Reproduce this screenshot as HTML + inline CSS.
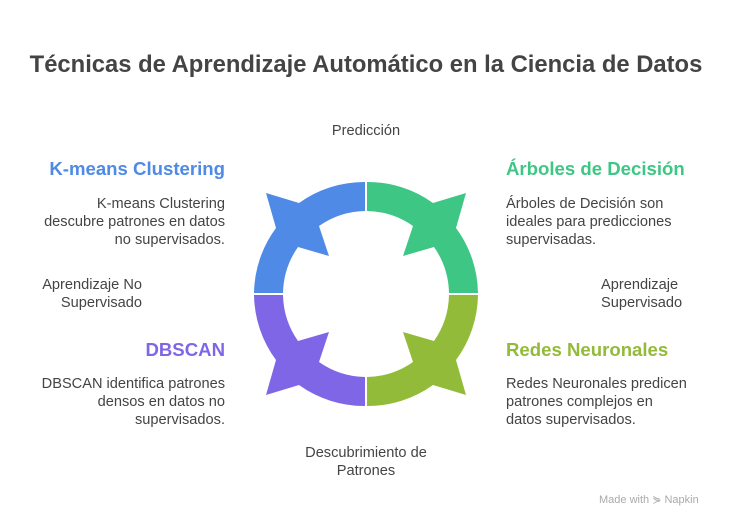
<!DOCTYPE html>
<html><head><meta charset="utf-8"><style>
body{margin:0;width:732px;height:528px;background:#fff;font-family:"Liberation Sans",sans-serif;position:relative;overflow:hidden}
.t{position:absolute;white-space:nowrap}
.h{font-weight:bold;font-size:18.6px}
.p{font-size:14.6px;color:#444;line-height:18px}
.r{text-align:right}
</style></head><body>
<div class="t" style="left:0;width:732px;top:51px;text-align:center;font-weight:bold;font-size:23.8px;color:#444">Técnicas de Aprendizaje Automático en la Ciencia de Datos</div>
<div class="t p" style="left:0;width:732px;text-align:center;top:122px">Predicción</div>
<div class="t p" style="left:0;width:732px;text-align:center;top:444px">Descubrimiento de<br>Patrones</div>
<div class="t h r" style="right:507px;top:158px;color:#4e8ae6">K-means Clustering</div>
<div class="t p r" style="right:507px;top:195px">K-means Clustering<br>descubre patrones en datos<br>no supervisados.</div>
<div class="t p r" style="right:590px;top:276px">Aprendizaje No<br>Supervisado</div>
<div class="t h r" style="right:507px;top:339px;color:#7e66e6">DBSCAN</div>
<div class="t p r" style="right:507px;top:375px">DBSCAN identifica patrones<br>densos en datos no<br>supervisados.</div>
<div class="t h" style="left:506px;top:158px;color:#3ec685">Árboles de Decisión</div>
<div class="t p" style="left:506px;top:195px">Árboles de Decisión son<br>ideales para predicciones<br>supervisadas.</div>
<div class="t p" style="left:601px;top:276px">Aprendizaje<br>Supervisado</div>
<div class="t h" style="left:506px;top:339px;color:#93bb3a">Redes Neuronales</div>
<div class="t p" style="left:506px;top:375px">Redes Neuronales predicen<br>patrones complejos en<br>datos supervisados.</div>
<div class="t" style="left:599px;top:493px;font-size:11px;color:#aaa">Made with ⋟ Napkin</div>
<svg width="732" height="528" style="position:absolute;left:0;top:0">
<defs><path id="q" d="M-1,-112 A112,112 0 0 0 -67,-91 L-100,-101 L-90,-66 A112,112 0 0 0 -112,-1 L-83,-1 A83,83 0 0 1 -68,-47 L-37,-38 L-47,-68 A83,83 0 0 1 -1,-83 Z"/></defs>
<g transform="translate(366,294)">
<use href="#q" fill="#4e8ae6"/>
<use href="#q" fill="#3ec685" transform="scale(-1,1)"/>
<use href="#q" fill="#93bb3a" transform="scale(-1,-1)"/>
<use href="#q" fill="#7e66e6" transform="scale(1,-1)"/>
</g></svg>
</body></html>
